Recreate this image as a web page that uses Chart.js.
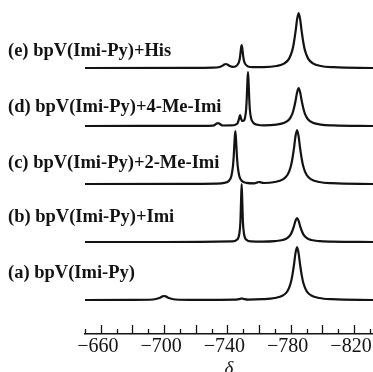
<!DOCTYPE html>
<html>
<head>
<meta charset="utf-8">
<script src="https://cdn.jsdelivr.net/npm/chart.js@4.4.1/dist/chart.umd.min.js"></script>
<style>
  html, body { margin: 0; padding: 0; background: #fff; }
  #chart { display: block; }
</style>
</head>
<body>
<canvas id="chart" width="373" height="372"></canvas>
<script>
// --- DATA ---
const traceNames = [
  "(a) bpV(Imi-Py)",
  "(b) bpV(Imi-Py)+Imi",
  "(c) bpV(Imi-Py)+2-Me-Imi",
  "(d) bpV(Imi-Py)+4-Me-Imi",
  "(e) bpV(Imi-Py)+His"
];

// chemical shift (delta) and intensity above each trace's baseline
const shiftA = [-650, -680, -693, -697, -699, -700, -701, -703, -707, -720, -745, -748, -749, -750, -753, -762, -770, -775, -778, -780, -781, -782, -783, -784, -785, -786, -787, -788, -790, -793, -798, -806, -832];
const intA = [0, 0.1, 0.5, 2, 3.6, 4, 3.6, 2, 0.5, 0.1, 0.3, 1.2, 1.5, 1.2, 0.4, 0.8, 2, 4.5, 9, 17, 24.4, 34.5, 46.6, 53, 46.6, 34.5, 24.4, 17, 9, 4.5, 2, 0.8, 0];

const shiftB = [-650, -700, -743, -746, -747.5, -748.2, -748.6, -749, -749.4, -749.8, -750.5, -752, -755, -762, -770, -775, -778, -780, -781, -782, -783, -784, -785, -786, -787, -788, -790, -793, -798, -806, -832];
const intB = [0, 0, 0.6, 2.3, 8, 20, 40, 58, 40, 20, 8, 2.3, 0.6, 0.4, 0.9, 2, 4.1, 7.7, 11, 15.6, 21.1, 24, 21.1, 15.6, 11, 7.7, 4.1, 2, 0.9, 0.4, 0];

const shiftC = [-650, -710, -733, -738, -741, -742.5, -743.5, -744, -744.5, -745, -745.5, -746, -746.5, -747.5, -749, -752, -757, -759, -760, -761, -763, -770, -775, -778, -780, -781, -782, -783, -784, -785, -786, -787, -788, -790, -793, -798, -806, -832];
const intC = [0, 0.1, 0.4, 1.1, 3.3, 8, 18, 28, 43, 53, 43, 28, 18, 8, 3.3, 1.1, 0.6, 1.6, 2, 1.7, 1.0, 2, 4.6, 9.2, 17.3, 24.8, 35.1, 47.5, 54, 47.5, 35.1, 24.8, 17.3, 9.2, 4.6, 2, 0.8, 0];

const shiftD = [-650, -715, -731, -733, -734, -735, -737, -742, -745, -746.5, -747.3, -748, -748.7, -749.5, -750.5, -751, -751.8, -752.2, -752.6, -753, -753.4, -753.8, -754.2, -755, -756.5, -759, -763, -771, -776, -779, -781, -782, -783, -784, -785, -786, -787, -788, -789, -791, -794, -799, -807, -832];
const intD = [0, 0.1, 0.4, 2.2, 3, 2.2, 0.5, 0.6, 1.3, 3, 7, 11, 7, 5, 5.5, 7.5, 16, 27, 43, 54, 43, 27, 16, 7.5, 3, 1.2, 0.6, 1.4, 3.2, 6.5, 12.2, 17.5, 24.7, 33.4, 38, 33.4, 24.7, 17.5, 12.2, 6.5, 3.2, 1.4, 0.6, 0];

const shiftE = [-650, -715, -731, -735, -737, -738, -739, -740, -741.5, -743.5, -745, -746.5, -747.5, -748, -748.5, -749, -749.5, -750, -750.5, -751.5, -753, -756, -763, -771, -776, -779, -781, -782, -783, -784, -785, -786, -787, -788, -789, -791, -794, -799, -807, -832];
const intE = [0, 0.1, 0.3, 1, 2.4, 3.5, 4, 3.5, 2, 1.2, 1.5, 3.5, 7, 11.5, 18.4, 23, 18.4, 11.5, 7, 3.5, 1.6, 0.9, 0.9, 2, 4.7, 9.4, 17.6, 25.3, 35.8, 48.4, 55, 48.4, 35.8, 25.3, 17.6, 9.4, 4.7, 2, 0.8, 0];

const labeledTicks = [-660, -700, -740, -780, -820];

// --- LAYOUT ---
const AXIS_H = 38;      // height of the x axis band
const BASE = 34;        // baseline of trace (a), px above the axis
const STEP = 58;        // vertical spacing between traces
const LABEL_GAP = [27, 25, 21, 19, 17];   // label centre above its baseline
const INK = '#131313';
const SERIF = '"Liberation Serif", "Times New Roman", serif';

const traces = [[shiftA, intA], [shiftB, intB], [shiftC, intC], [shiftD, intD], [shiftE, intE]];

const datasets = traces.map(([xs, ys], i) => ({
  label: traceNames[i],
  data: xs.map((x, k) => ({ x: x, y: ys[k] + BASE + STEP * i })),
  borderColor: INK,
  borderWidth: 2.2,
  pointRadius: 0,
  fill: false,
  cubicInterpolationMode: 'monotone'
}));

// upward tick marks on the delta axis, long every 20, short in between
const axisTicks = {
  id: 'axisTicks',
  afterDraw(chart) {
    const s = chart.scales.x;
    const ctx = chart.ctx;
    ctx.save();
    ctx.strokeStyle = INK;
    ctx.lineWidth = 1.3;
    for (let v = -650; v >= -830; v -= 10) {
      const px = Math.round(s.getPixelForValue(v)) + 0.5;
      const len = v % 20 === 0 ? 9 : 5;
      ctx.beginPath();
      ctx.moveTo(px, s.top);
      ctx.lineTo(px, s.top - len);
      ctx.stroke();
    }
    ctx.restore();
  }
};

// trace names on the left
const traceLabels = {
  id: 'traceLabels',
  afterDraw(chart) {
    const y = chart.scales.y;
    const ctx = chart.ctx;
    ctx.save();
    ctx.fillStyle = INK;
    ctx.font = 'bold 18.5px ' + SERIF;
    ctx.textAlign = 'left';
    ctx.textBaseline = 'middle';
    traceNames.forEach((name, i) => {
      ctx.fillText(name, 8, y.getPixelForValue(BASE + STEP * i) - LABEL_GAP[i]);
    });
    ctx.restore();
  }
};

new Chart(document.getElementById('chart'), {
  type: 'line',
  data: { datasets },
  plugins: [axisTicks, traceLabels],
  options: {
    responsive: false,
    animation: false,
    devicePixelRatio: 1,
    layout: { padding: { left: 85, right: 0, top: 0, bottom: 0 } },
    plugins: { legend: { display: false }, tooltip: { enabled: false } },
    scales: {
      x: {
        type: 'linear',
        reverse: true,
        min: -832,
        max: -650,
        afterFit: (s) => { s.height = AXIS_H; },
        grid: { display: false, drawTicks: false },
        border: { display: true, color: INK, width: 1.5 },
        ticks: {
          stepSize: 10,
          includeBounds: false,
          autoSkip: false,
          maxRotation: 0,
          padding: 3,
          labelOffset: -3,
          color: INK,
          font: { family: SERIF, size: 20, lineHeight: 1 },
          callback: (v) => labeledTicks.includes(v) ? '\u2212' + Math.abs(v) : ''
        },
        title: {
          display: true,
          text: 'δ',
          color: INK,
          font: { family: SERIF, size: 19, style: 'italic', lineHeight: 1 },
          padding: { top: 0, bottom: -6 }
        }
      },
      y: {
        display: false,
        min: 0,
        max: 334
      }
    }
  }
});
</script>
</body>
</html>
